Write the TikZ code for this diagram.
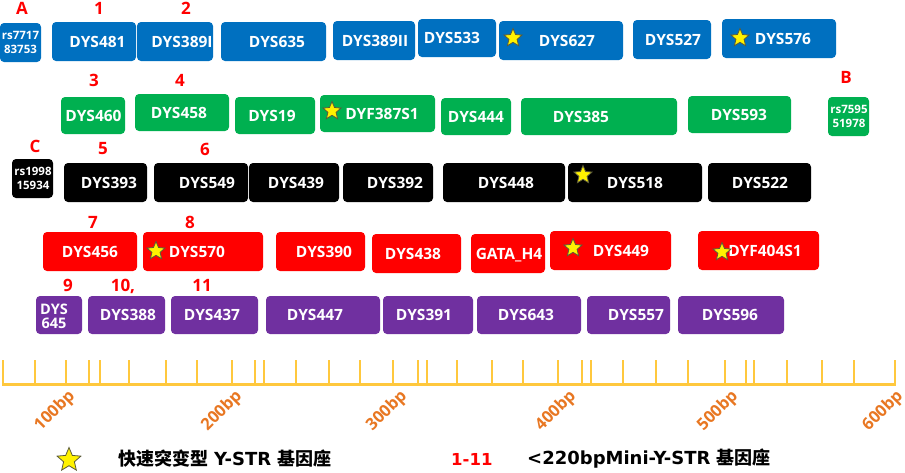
\documentclass[tikz,border=0pt]{standalone}
\usepackage{fontspec}
\setmainfont{Open Sans}
\newfontfamily\cjk{Noto Sans CJK SC}
\newfontfamily\dvs{DejaVu Sans}
\usetikzlibrary{shapes.geometric}
\definecolor{cblue}{HTML}{0070C0}
\definecolor{cgreen}{HTML}{00B050}
\definecolor{cred}{HTML}{FF0000}
\definecolor{cpurple}{HTML}{7030A0}
\definecolor{cgold}{HTML}{FFC83D}
\definecolor{corange}{HTML}{E87722}
\definecolor{starline}{HTML}{5A5A3A}
\tikzset{
  bx/.style={rectangle, rounded corners=4pt, draw=none, inner sep=0pt},
  lbl/.style={text=white, inner sep=0pt, font=\bfseries\fontsize{15.5}{15.5}\selectfont, text height=11pt, text depth=0pt},
  small/.style={text=white, inner sep=0pt, align=center, font=\bfseries\fontsize{11.5}{14.5}\selectfont},
  num/.style={text=cred, inner sep=0pt, font=\bfseries\fontsize{17}{17}\selectfont},
  starn/.style={star, star points=5, star point ratio=2.2, fill=yellow, draw=starline, line width=0.8pt, minimum size=19pt, inner sep=0pt},
  axisline/.style={draw=cgold, line width=3pt},
  tickline/.style={draw=cgold, line width=2.6pt},
  bp/.style={text=corange, inner sep=0pt, rotate=45, font=\bfseries\fontsize{16.5}{16.5}\selectfont},
  leg/.style={anchor=west, inner sep=0pt, font=\bfseries\fontsize{18}{18}\selectfont}
}
% #1 name, #2 x1, #3 y1, #4 x2, #5 y2, #6 colour, #7 text x, #8 text
\newcommand\bx[8]{%
  \node[bx, fill=#6, minimum width={#4pt-#2pt}, minimum height={#5pt-#3pt}] (#1) at ({(#2+#4)/2},{(#3+#5)/2}) {};
  \node[lbl] (#1-t) at (#7,{(#3+#5)/2}) {#8};}
\newcommand\bxs[8]{%
  \node[bx, fill=#6, minimum width={#4pt-#2pt}, minimum height={#5pt-#3pt}] (#1) at ({(#2+#4)/2},{(#3+#5)/2}) {};
  \node[small] (#1-t) at (#7,{(#3+#5)/2}) {#8};}
\begin{document}
\begin{tikzpicture}[x=1pt,y=-1pt]
\useasboundingbox (0,0) rectangle (905,472);
% row 1 (blue)
\bxs{rsA}{0}{23}{41}{62}{cblue}{20.5}{rs7717\\83753}
\bx{b481}{52}{22}{136}{61}{cblue}{97.5}{DYS481}
\bx{b389i}{137}{22}{213}{61}{cblue}{182}{DYS389I}
\bx{b635}{221}{22}{326}{61}{cblue}{277}{DYS635}
\bx{b389ii}{333}{21}{415}{60}{cblue}{375}{DYS389II}
\bx{b533}{418}{19}{496}{57}{cblue}{452}{DYS533}
\bx{b627}{499}{21}{623}{60}{cblue}{567}{DYS627}
\bx{b527}{633}{20}{711}{59}{cblue}{673}{DYS527}
\bx{b576}{722}{19}{836}{58}{cblue}{783}{DYS576}
\node[starn] (s627) at (513,38) {};
\node[starn] (s576) at (740,38) {};
\bxs{rsB}{828}{97}{869}{136}{cgreen}{849}{rs7595\\51978}
% row 2 (green)
\bx{b460}{61}{97}{125}{134}{cgreen}{93.5}{DYS460}
\bx{b458}{135}{94}{229}{131}{cgreen}{179}{DYS458}
\bx{b19}{235}{97}{315}{134}{cgreen}{272}{DYS19}
\bx{b387}{320}{95}{435}{132}{cgreen}{382}{DYF387S1}
\bx{b444}{441}{98}{511}{135}{cgreen}{476}{DYS444}
\bx{b385}{521}{98}{677}{135}{cgreen}{581}{DYS385}
\bx{b593}{688}{96}{791}{133}{cgreen}{739}{DYS593}
\node[starn] (s387) at (332,111) {};
% row 3 (black)
\bxs{rsC}{12}{159}{53}{198}{black}{33}{rs1998\\15934}
\bx{b393}{64}{163}{147}{202}{black}{109}{DYS393}
\bx{b549}{154}{163}{248}{202}{black}{207}{DYS549}
\bx{b439}{249}{163}{339}{202}{black}{296}{DYS439}
\bx{b392}{343}{163}{433}{202}{black}{395}{DYS392}
\bx{b448}{443}{163}{565}{202}{black}{506}{DYS448}
\bx{b518}{568}{163}{702}{202}{black}{635}{DYS518}
\bx{b522}{708}{163}{811}{202}{black}{760}{DYS522}
\node[starn] (s518) at (583,175) {};
% row 4 (red)
\bx{b456}{43}{232}{137}{271}{cred}{90}{DYS456}
\bx{b570}{143}{232}{263}{271}{cred}{197}{DYS570}
\bx{b390}{276}{232}{365}{271}{cred}{324}{DYS390}
\bx{b438}{372}{234}{461}{273}{cred}{413}{DYS438}
\bx{bgata}{471}{234}{545}{273}{cred}{509}{GATA\_H4}
\bx{b449}{550}{231}{671}{270}{cred}{621}{DYS449}
\bx{b404}{698}{231}{819}{270}{cred}{765}{DYF404S1}
\node[starn] (s570) at (156,251) {};
\node[starn] (s449) at (573,248) {};
\node[starn] (s404) at (722,252) {};
% row 5 (purple)
\node[bx, fill=cpurple, minimum width=46pt, minimum height=38pt] (b645) at (59,315) {};
\node[text=white, inner sep=0pt, align=center, font=\bfseries\fontsize{14.5}{14}\selectfont] (b645-t) at (54,316) {DYS\\645};
\bx{b388}{88}{296}{165}{334}{cpurple}{128}{DYS388}
\bx{b437}{171}{296}{258}{334}{cpurple}{212}{DYS437}
\bx{b447}{266}{296}{380}{334}{cpurple}{315}{DYS447}
\bx{b391}{383}{296}{473}{334}{cpurple}{424}{DYS391}
\bx{b643}{477}{296}{581}{334}{cpurple}{526}{DYS643}
\bx{b557}{587}{296}{670}{334}{cpurple}{636}{DYS557}
\bx{b596}{678}{296}{784}{334}{cpurple}{730}{DYS596}
% red labels
\node[num] (lA) at (22,8) {A};
\node[num] (n1) at (99,8) {1};
\node[num] (n2) at (186,8) {2};
\node[num] (n3) at (94,80) {3};
\node[num] (n4) at (180,80) {4};
\node[num] (lB) at (846,77) {B};
\node[num] (lC) at (35,146) {C};
\node[num] (n5) at (103,149) {5};
\node[num] (n6) at (205,149) {6};
\node[num] (n7) at (93,222) {7};
\node[num] (n8) at (190,222) {8};
\node[num] (n9) at (68,285) {9};
\node[num] (n10) at (123,286) {10,};
\node[num] (n11) at (202,285) {11};
% axis
\coordinate (ax0) at (2,384);
\coordinate (ax1) at (896,384);
\draw[axisline] (ax0) -- (ax1);
\foreach \t in {3,35,66,89,100,129,166,197,232,255,264,296,329,360,393,418,427,457,492,523,558,582,591,623,656,688,725,746,754,787,822,854,895}
  \draw[tickline] (\t,360) -- (\t,384);
\node[bp] (t100) at (55,411) {100bp};
\node[bp] (t200) at (222,411) {200bp};
\node[bp] (t300) at (387,411) {300bp};
\node[bp] (t400) at (556,411) {400bp};
\node[bp] (t500) at (718,411) {500bp};
\node[bp] (t600) at (883,411) {600bp};
% legend
\node[starn, minimum size=25pt] (lstar) at (69,460) {};
\node[leg] (leg1) at (118,459) {{\cjk 快速突变型}\hspace{6pt}{\dvs Y-STR}\hspace{6pt}{\cjk 基因座}};
\node[leg, text=cred] (leg2) at (451,459) {{\dvs\fontsize{16.5}{16.5}\selectfont 1-11}};
\node[leg] (leg3) at (527,459) {{\dvs <220bpMini-Y-STR}\hspace{6pt}{\cjk 基因座}};
\end{tikzpicture}
\end{document}
